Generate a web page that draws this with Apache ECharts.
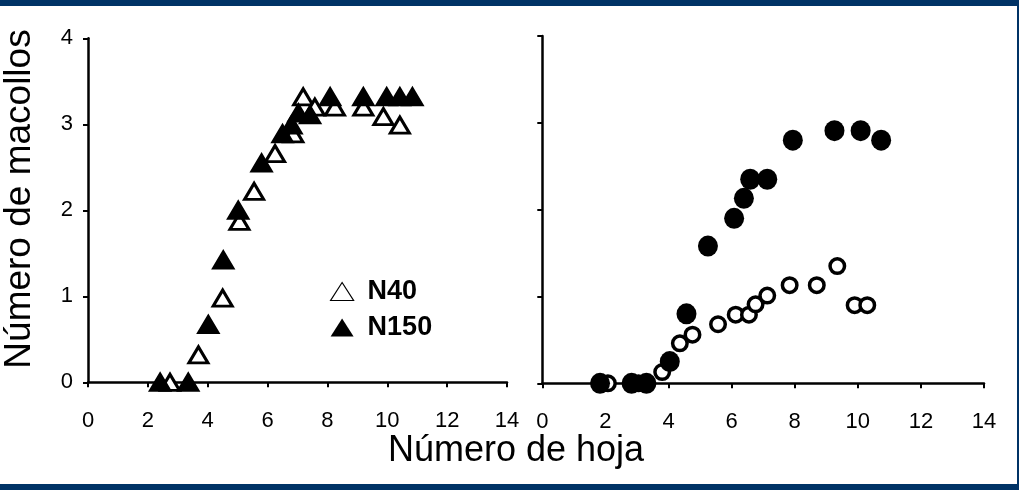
<!DOCTYPE html>
<html>
<head>
<meta charset="utf-8">
<script src="https://cdn.jsdelivr.net/npm/echarts@6/dist/echarts.min.js"></script>
<style>
html,body{margin:0;padding:0;background:#fff;}
#c{width:1019px;height:490px;}
</style>
</head>
<body>
<div id="c"></div>
<script>
// Left panel (triangles)
var leftN40X = [2.74, 3.69, 4.50, 5.06, 5.55, 6.25, 6.86, 7.19, 7.58, 8.25, 9.20, 9.87, 10.42];
var leftN40Y = [0, 0.32, 0.98, 1.87, 2.22, 2.66, 2.89, 3.32, 3.20, 3.20, 3.20, 3.09, 2.99];
var leftN150X = [2.41, 3.35, 4.02, 4.52, 5.02, 5.80, 6.50, 6.80, 7.03, 7.42, 8.09, 9.20, 9.98, 10.42, 10.84];
var leftN150Y = [0, 0, 0.67, 1.42, 2.00, 2.55, 2.89, 2.99, 3.13, 3.11, 3.32, 3.32, 3.32, 3.32, 3.32];
// Right panel (circles)
var rightOpenX = [2.08, 3.05, 3.80, 4.36, 4.76, 5.57, 6.13, 6.55, 6.76, 7.13, 7.84, 8.70, 9.35, 9.90, 10.30];
var rightOpenY = [0, 0, 0.13, 0.46, 0.56, 0.68, 0.79, 0.79, 0.91, 1.01, 1.13, 1.13, 1.35, 0.90, 0.90];
var rightFilledX = [1.83, 2.83, 3.30, 4.04, 4.57, 5.25, 6.08, 6.39, 6.59, 7.13, 7.94, 9.26, 10.09, 10.74];
var rightFilledY = [0, 0, 0, 0.25, 0.80, 1.58, 1.90, 2.13, 2.35, 2.35, 2.80, 2.91, 2.91, 2.80];
// Axis texts
var xTitle = 'Número de hoja';
var yTitle = 'Número de macollos';
var legendNames = ['N40', 'N150'];

function pairs(xs, ys){ return xs.map(function(x,i){ return [x, ys[i]]; }); }

var FONT = '"Liberation Sans", Arial, sans-serif';
var BLUE = '#003366';

function xAxisCfg(gi){
  return {
    type:'value', gridIndex:gi, min:0, max:14, interval:2,
    axisLine:{show:true, onZero:false, lineStyle:{color:'#000', width:2.5}},
    axisTick:{show:true, inside:false, length:5, lineStyle:{color:'#000', width:2}},
    axisLabel:{show:true, color:'#000', fontSize:22, fontFamily:FONT, margin:28},
    splitLine:{show:false}
  };
}
function yAxisCfg(gi, showLabel){
  return {
    type:'value', gridIndex:gi, min:0, max:4, interval:1,
    axisLine:{show:true, onZero:false, lineStyle:{color:'#000', width:2.5}},
    axisTick:{show:true, inside:false, length:5, lineStyle:{color:'#000', width:2}},
    axisLabel:{show:showLabel, color:'#000', fontSize:22, fontFamily:FONT, margin:15},
    splitLine:{show:false}
  };
}

var chart = echarts.init(document.getElementById('c'), null, {renderer:'canvas'});
chart.setOption({
  backgroundColor: BLUE,
  animation:false,
  textStyle:{fontFamily:FONT},
  graphic:[
    {type:'rect', z:-100, silent:true, shape:{x:0, y:6, width:1017, height:478}, style:{fill:'#fff'}},
    {type:'text', silent:true, x:516, y:451, style:{text:xTitle, font:'36px ' + FONT, fill:'#000', textAlign:'center', textVerticalAlign:'middle'}},
    {type:'text', silent:true, x:20, y:199, rotation:Math.PI/2, style:{text:yTitle, font:'37px ' + FONT, fill:'#000', textAlign:'center', textVerticalAlign:'middle'}}
  ],
  legend:{
    orient:'vertical', left:325, top:273, itemWidth:23, itemHeight:18, itemGap:9,
    symbolKeepAspect:false,
    textStyle:{fontSize:27, fontWeight:'bold', color:'#000', fontFamily:FONT, padding:[0,0,0,9]},
    selectedMode:false,
    data:[
      {name:legendNames[0], icon:'triangle', itemStyle:{color:'#fff', borderColor:'#000', borderWidth:1.2}},
      {name:legendNames[1], icon:'triangle', itemStyle:{color:'#000', borderColor:'#000', borderWidth:0}}
    ]
  },
  grid:[
    {left:88, top:38.3, width:419, height:344},
    {left:542.3, top:36, width:441.7, height:347.3}
  ],
  xAxis:[xAxisCfg(0), xAxisCfg(1)],
  yAxis:[yAxisCfg(0, true), yAxisCfg(1, false)],
  series:[
    {name:legendNames[0], type:'scatter', xAxisIndex:0, yAxisIndex:0, symbol:'triangle', symbolSize:[19,16],
     itemStyle:{color:'#fff', borderColor:'#000', borderWidth:3, opacity:1}, data:pairs(leftN40X, leftN40Y), z:2},
    {name:legendNames[1], type:'scatter', xAxisIndex:0, yAxisIndex:0, symbol:'triangle', symbolSize:[19,16],
     itemStyle:{color:'#000', borderColor:'#000', borderWidth:3, opacity:1}, data:pairs(leftN150X, leftN150Y), z:3},
    {name:'N40 (der.)', type:'scatter', xAxisIndex:1, yAxisIndex:1, symbol:'circle', symbolSize:14.5,
     itemStyle:{color:'#fff', borderColor:'#000', borderWidth:3.5, opacity:1}, data:pairs(rightOpenX, rightOpenY), z:2},
    {name:'N150 (der.)', type:'scatter', xAxisIndex:1, yAxisIndex:1, symbol:'circle', symbolSize:[20,21],
     itemStyle:{color:'#000', borderColor:'#000', borderWidth:0, opacity:1}, data:pairs(rightFilledX, rightFilledY), z:3}
  ]
});
</script>
</body>
</html>
